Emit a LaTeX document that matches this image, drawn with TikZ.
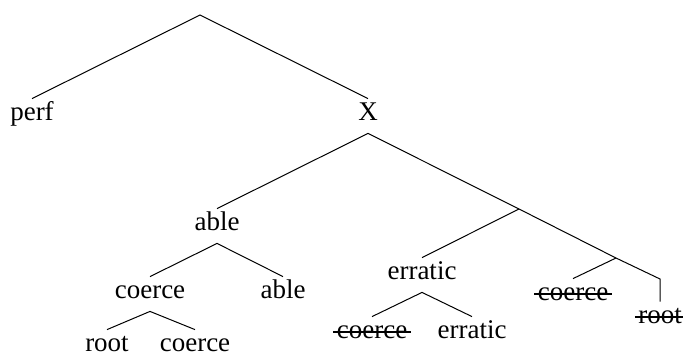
\documentclass[tikz,border=0pt]{standalone}
\usepackage{fontspec}
\setmainfont{Liberation Serif}

\begin{document}
\begin{tikzpicture}[x=0.5pt, y=-0.5pt,
    lbl/.style={inner sep=1.5pt, text height=9pt, text depth=5pt, anchor=base,
                font=\fontsize{13.5}{16}\selectfont},
    low/.style={inner ysep=0pt, text height=10.5pt, text depth=0pt},
    edge/.style={line width=0.5pt},
    strike/.style={line width=1pt}]

    % Frame of the picture
    \useasboundingbox (0,0) rectangle (683,354);

    % Branch points without a label
    \coordinate (top) at (200,15);
    \coordinate (j1) at (519,209);
    \coordinate (j2) at (616,258);
    \coordinate (j3) at (660,279);

    % Labels
    \node[lbl] (perf) at (32,120) {perf};
    \node[lbl] (x) at (368,120) {X};
    \node[lbl] (able1) at (217,230) {able};
    \node[lbl] (coerce1) at (150,298) {coerce};
    \node[lbl] (able2) at (283,298) {able};
    \node[lbl, low] (root1) at (107,351) {root};
    \node[lbl, low] (coerce2) at (195,351) {coerce};
    \node[lbl] (erratic1) at (422,279) {erratic};
    \node[lbl] (coerce3) at (372,338) {coerce};
    \node[lbl] (erratic2) at (472,338) {erratic};
    \node[lbl] (coerce4) at (573,300) {coerce};
    \node[lbl] (root2) at (660,323) {root};

    % Struck-out copies
    \foreach \n in {coerce3, coerce4, root2}
        \draw[strike] ([yshift=3pt]\n.base west) -- ([yshift=3pt]\n.base east);

    % Branches
    \draw[edge] (perf.north) -- (top) -- (x.north);
    \draw[edge] (able1.north) -- (x.south) -- (j1) -- (j2) -- (j3) -- (root2.north);
    \draw[edge] (j1) -- (erratic1.north);
    \draw[edge] (j2) -- (coerce4.north);
    \draw[edge] (coerce1.north) -- (able1.south) -- (able2.north);
    \draw[edge] (root1.north) -- (coerce1.south) -- (coerce2.north);
    \draw[edge] (coerce3.north) -- (erratic1.south) -- (erratic2.north);

\end{tikzpicture}
\end{document}
